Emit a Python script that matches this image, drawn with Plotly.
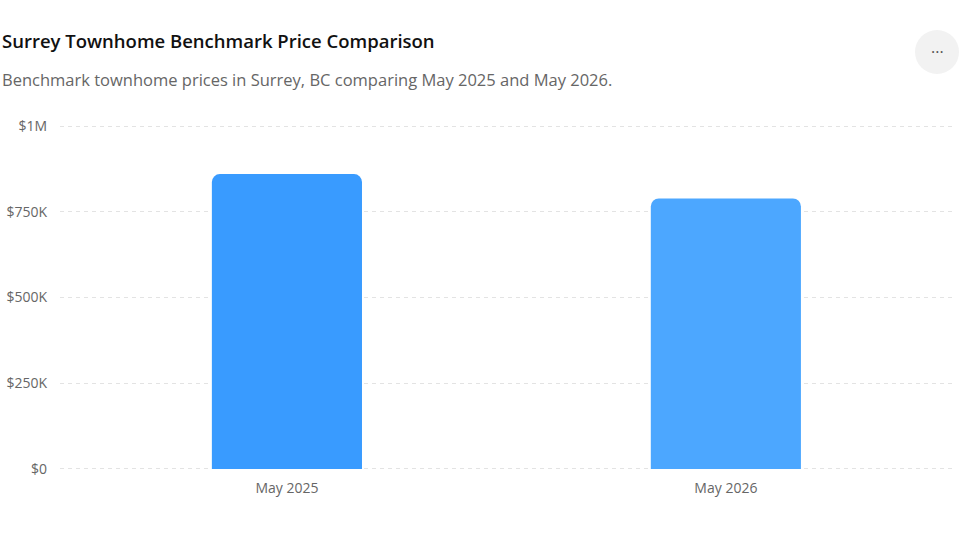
import plotly.graph_objects as go

# data
months = ["May 2025", "May 2026"]
prices = [860000, 789000]
bar_colors = ["#399bff", "#4ca7ff"]
tick_vals = [0, 250000, 500000, 750000, 1000000]
tick_text = ["$0", "$250K", "$500K", "$750K", "$1M"]

font = "Open Sans, Noto Sans, sans-serif"

fig = go.Figure(go.Bar(
	x=months,
	y=prices,
	marker=dict(color=bar_colors, line=dict(width=0)),
	width=0.342,
	hovertemplate="%{x}: $%{y:,.0f}<extra></extra>",
))

fig.update_layout(
	width=960, height=540,
	margin=dict(l=60, r=5, t=125, b=70),
	paper_bgcolor="white", plot_bgcolor="white",
	font=dict(family=font, size=14, color="#666666"),
	barcornerradius=8,
	showlegend=False,
	title=dict(
		text="Surrey Townhome Benchmark Price Comparison",
		font=dict(family=font, size=18.5, color="#111111", weight=600),
		xref="container", x=0, xanchor="left",
		yref="container", y=1 - 42 / 540, yanchor="middle",
		pad=dict(l=2),
		subtitle=dict(
			text="Benchmark townhome prices in Surrey, BC comparing May 2025 and May 2026.",
			font=dict(family=font, size=16.5, color="#666666"),
		),
	),
)

fig.update_yaxes(
	range=[-3000, 1003000],
	tickvals=tick_vals, ticktext=tick_text,
	showgrid=True, gridcolor="#e3e3e3", griddash="4px,4px", gridwidth=1,
	zeroline=False, showline=False, ticks="",
	ticklabelstandoff=12,
	tickfont=dict(size=14, color="#666666"),
)
fig.update_xaxes(
	range=[-0.517, 1.522],
	showgrid=False, showline=False, ticks="",
	tickfont=dict(size=14, color="#666666"),
	ticklabelstandoff=8,
)

# menu button top right
fig.add_shape(
	type="circle", xref="paper", yref="paper",
	x0=(915 - 60) / 895, x1=(959 - 60) / 895,
	y0=(470 - 30) / 345, y1=(470 - 74) / 345,
	fillcolor="#f2f2f2", line=dict(width=0), layer="below",
)
fig.add_annotation(
	text="···", xref="paper", yref="paper",
	x=(937 - 60) / 895, y=(470 - 52) / 345,
	showarrow=False, font=dict(size=16, color="#555555"),
	xanchor="center", yanchor="middle",
)

fig.write_html(
	"out.html",
	config={"displayModeBar": False},
	post_script="document.body.style.margin='0';",
)
